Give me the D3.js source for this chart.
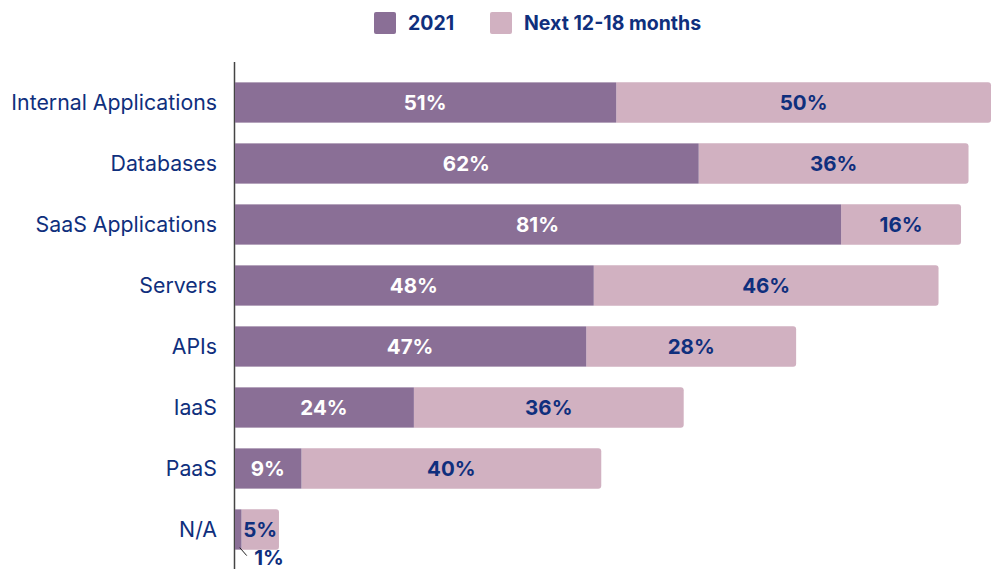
<!DOCTYPE html>
<html>
<head>
<meta charset="utf-8">
<script src="https://cdn.jsdelivr.net/npm/d3@7"></script>
<style>
  body { margin: 0; background: #fff; }
  text { font-family: Inter, "Noto Sans", sans-serif; }
</style>
</head>
<body>
<svg></svg>
<script>
// chart data
var categories = ["Internal Applications", "Databases", "SaaS Applications", "Servers", "APIs", "IaaS", "PaaS", "N/A"];
var current = [51, 62, 81, 48, 47, 24, 9, 1];
var future = [50, 36, 16, 46, 28, 36, 40, 5];
var seriesNames = ["2021", "Next 12-18 months"];

var width = 1003, height = 569;
var colors = ["#8a6f96", "#d1b1c1"];
var navy = "#0f2f7d";

var svg = d3.select("svg")
    .attr("width", width)
    .attr("height", height);

var x = d3.scaleLinear().domain([0, 101]).range([234, 991]);
var y = d3.scaleBand().domain(categories).range([72, 560]).paddingInner(0.34).paddingOuter(0.17);

// axis line
svg.append("line")
    .attr("x1", 234.5).attr("x2", 234.5)
    .attr("y1", 62).attr("y2", height)
    .attr("stroke", "#444").attr("stroke-width", 1.5);

var rows = categories.map(function(c, i) {
    return {cat: c, a: current[i], b: future[i]};
});

// next 12-18 months segment (drawn full, rounded right end)
svg.append("g").selectAll("path")
    .data(rows)
    .enter().append("path")
    .attr("fill", colors[1])
    .attr("d", function(d) {
        var x0 = x(d.a), x1 = x(d.a + d.b), y0 = y(d.cat), h = y.bandwidth(), r = 3;
        return "M" + x0 + "," + y0 + "H" + (x1 - r) + "Q" + x1 + "," + y0 + " " + x1 + "," + (y0 + r) +
            "V" + (y0 + h - r) + "Q" + x1 + "," + (y0 + h) + " " + (x1 - r) + "," + (y0 + h) + "H" + x0 + "Z";
    });

// 2021 segment
svg.append("g").selectAll("rect")
    .data(rows)
    .enter().append("rect")
    .attr("x", x(0) + 1)
    .attr("y", function(d) { return y(d.cat); })
    .attr("width", function(d) { return x(d.a) - x(0) - 1; })
    .attr("height", y.bandwidth())
    .attr("fill", colors[0]);

// category labels
svg.append("g").selectAll("text")
    .data(rows)
    .enter().append("text")
    .attr("x", 217)
    .attr("y", function(d) { return y(d.cat) + y.bandwidth() / 2; })
    .attr("dy", "0.35em")
    .attr("text-anchor", "end")
    .attr("fill", navy)
    .attr("font-size", 21.3)
    .text(function(d) { return d.cat; });

// value labels 2021
svg.append("g").selectAll("text")
    .data(rows)
    .enter().append("text")
    .attr("x", function(d) { return d.a < 3 ? x(0) + 35 : (x(0) + x(d.a)) / 2; })
    .attr("y", function(d) {
        return d.a < 3 ? y(d.cat) + y.bandwidth() + 8 : y(d.cat) + y.bandwidth() / 2;
    })
    .attr("dy", "0.35em")
    .attr("text-anchor", "middle")
    .attr("fill", function(d) { return d.a < 3 ? navy : "#fff"; })
    .attr("font-size", 20.5)
    .attr("font-weight", 700)
    .text(function(d) { return d.a + "%"; });

// leader line for tiny value
var tiny = rows.filter(function(d) { return d.a < 3; });
svg.append("g").selectAll("line")
    .data(tiny)
    .enter().append("line")
    .attr("x1", function(d) { return x(d.a / 2) + 2; })
    .attr("y1", function(d) { return y(d.cat) + y.bandwidth() - 2; })
    .attr("x2", function(d) { return x(d.a / 2) + 9; })
    .attr("y2", function(d) { return y(d.cat) + y.bandwidth() + 6; })
    .attr("stroke", "#222").attr("stroke-width", 1);

// value labels next
svg.append("g").selectAll("text")
    .data(rows)
    .enter().append("text")
    .attr("x", function(d) { return (x(d.a) + x(d.a + d.b)) / 2; })
    .attr("y", function(d) { return y(d.cat) + y.bandwidth() / 2; })
    .attr("dy", "0.35em")
    .attr("text-anchor", "middle")
    .attr("fill", navy)
    .attr("font-size", 20.5)
    .attr("font-weight", 700)
    .text(function(d) { return d.b + "%"; });

// legend
var legendX = [374, 490];
var legend = svg.append("g").selectAll("g")
    .data(seriesNames)
    .enter().append("g")
    .attr("transform", function(d, i) { return "translate(" + legendX[i] + ",12)"; });
legend.append("rect")
    .attr("width", 22).attr("height", 22).attr("rx", 2)
    .attr("fill", function(d, i) { return colors[i]; });
legend.append("text")
    .attr("x", 34).attr("y", 11)
    .attr("dy", "0.35em")
    .attr("fill", navy)
    .attr("font-size", 19.5)
    .attr("font-weight", 700)
    .text(function(d) { return d; });
</script>
</body>
</html>
